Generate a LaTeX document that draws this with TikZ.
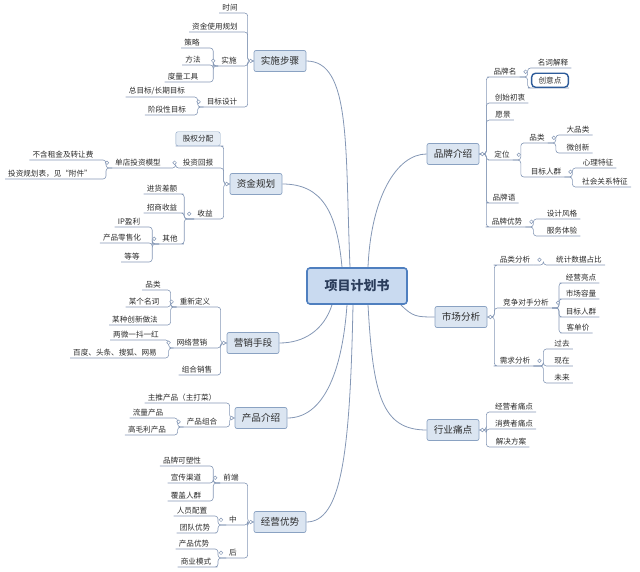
\documentclass[tikz,border=0pt]{standalone}
\usepackage{fontspec}
\setmainfont{Noto Sans CJK SC}
\usetikzlibrary{backgrounds}

\definecolor{linkblue}{HTML}{8497B5}
\definecolor{topicfill}{HTML}{DBE5F1}
\definecolor{topicdraw}{HTML}{8AA2C2}
\definecolor{rootfill}{HTML}{C9DAF0}
\definecolor{rootdraw}{HTML}{4F7FBF}
\definecolor{rootink}{HTML}{2B3D5B}
\definecolor{selblue}{HTML}{2E5C9A}
\definecolor{inktext}{HTML}{2B2B2B}

\tikzset{
  root/.style={draw=rootdraw, line width=1.6pt, fill=rootfill, rounded corners=3pt,
    minimum width=100pt, minimum height=36pt, font=\fontsize{13}{15}\selectfont\bfseries, text=rootink},
  topic/.style={draw=topicdraw, line width=0.7pt, fill=topicfill, rounded corners=2pt,
    minimum width=52pt, minimum height=21pt, font=\fontsize{9.6}{11}\selectfont, text=inktext},
  sub/.style={anchor=south, inner xsep=3pt, inner ysep=1.5pt, font=\fontsize{7.6}{9}\selectfont, text=inktext},
  subbox/.style={sub, draw=topicdraw, fill=topicfill!70, rounded corners=2pt, inner xsep=7pt, inner ysep=3.5pt},
  selbox/.style={sub, draw=selblue, line width=1.4pt, fill=white, rounded corners=4pt, inner xsep=7pt, inner ysep=3.5pt},
  link/.style={draw=linkblue, line width=0.6pt, rounded corners=3pt},
  mainlink/.style={draw=linkblue, line width=0.8pt},
  knob/.style={draw=linkblue, line width=0.5pt, fill=white}
}

% bracket from a parent to its children, to the left or to the right
\newcommand{\lbranch}[3]{\foreach \kid in {#3}{\draw[link] (#1) -- ++(-#2,0) |- (\kid.south east) -- (\kid.south west);}}
\newcommand{\rbranch}[3]{\foreach \kid in {#3}{\draw[link] (#1) -- ++(#2,0) |- (\kid.south west) -- (\kid.south east);}}

\begin{document}
\begin{tikzpicture}[x=1pt, y=-1pt]
  \useasboundingbox (0,0) rectangle (640,572);

  \node[root] (plan) at (357,286) {项目计划书};

  % main topics
  \node[topic] (steps) at (280,61) {实施步骤};
  \node[topic] (funds) at (256,184) {资金规划};
  \node[topic] (promo) at (253,343) {营销手段};
  \node[topic] (product) at (261,418) {产品介绍};
  \node[topic] (advantage) at (280,522) {经营优势};
  \node[topic] (brand) at (453,154) {品牌介绍};
  \node[topic] (mkt) at (461,317) {市场分析};
  \node[topic] (pain) at (453,430) {行业痛点};

  % 实施步骤
  \node[sub] (s1) at (230,13) {时间};
  \node[sub] (s2) at (215,32) {资金使用规划};
  \node[sub] (s3) at (229,66) {实施};
  \node[sub] (s4) at (222,107) {目标设计};
  \node[sub] (s31) at (192,48) {策略};
  \node[sub] (s32) at (193,65) {方法};
  \node[sub] (s33) at (183,82) {度量工具};
  \node[sub] (s41) at (157,97) {总目标/长期目标};
  \node[sub] (s42) at (167,115) {阶段性目标};

  % 资金规划
  \node[subbox] (f1) at (198,146) {股权分配};
  \node[sub] (f2) at (198,168) {投资回报};
  \node[sub] (f3) at (205,219) {收益};
  \node[sub] (f21) at (138,168) {单店投资模型};
  \node[sub] (f211) at (63,160) {不含租金及转让费};
  \node[sub] (f212) at (50,179) {投资规划表，见“附件”};
  \node[sub] (f31) at (162,194) {进货差额};
  \node[sub] (f32) at (162,213) {招商收益};
  \node[sub] (f33) at (170,244) {其他};
  \node[sub] (f331) at (129,227) {IP盈利};
  \node[sub] (f332) at (122,243) {产品零售化};
  \node[sub] (f333) at (132,262) {等等};

  % 营销手段
  \node[sub] (p1) at (195,307) {重新定义};
  \node[sub] (p2) at (192,348) {网络营销};
  \node[sub] (p3) at (197,375) {组合销售};
  \node[sub] (p11) at (153,290) {品类};
  \node[sub] (p12) at (144,307) {某个名词};
  \node[sub] (p13) at (135,325) {某种创新做法};
  \node[sub] (p21) at (136,340) {两微一抖一红};
  \node[sub] (p22) at (115,358) {百度、头条、搜狐、网易};

  % 产品介绍
  \node[sub] (d1) at (182,403) {主推产品（主打菜）};
  \node[sub] (d2) at (202,427) {产品组合};
  \node[sub] (d21) at (148,418) {流量产品};
  \node[sub] (d22) at (147,435) {高毛利产品};

  % 经营优势
  \node[sub] (a1) at (231,483) {前端};
  \node[sub] (a2) at (233,525) {中};
  \node[sub] (a3) at (233,558) {后};
  \node[sub] (a11) at (182,466) {品牌可塑性};
  \node[sub] (a12) at (186,483) {宣传渠道};
  \node[sub] (a13) at (186,501) {覆盖人群};
  \node[sub] (a21) at (192,516) {人员配置};
  \node[sub] (a22) at (195,533) {团队优势};
  \node[sub] (a31) at (194,549) {产品优势};
  \node[sub] (a32) at (196,567) {商业模式};

  % 品牌介绍
  \node[sub] (b1) at (505,77) {品牌名};
  \node[sub] (b2) at (510,103) {创始初衷};
  \node[sub] (b3) at (503,120) {愿景};
  \node[sub] (b4) at (502,160) {定位};
  \node[sub] (b5) at (504,203) {品牌语};
  \node[sub] (b6) at (507,227) {品牌优势};
  \node[sub] (b11) at (553,68) {名词解释};
  \node[selbox] (b12) at (550,88) {创意点};
  \node[sub] (b41) at (537,143) {品类};
  \node[sub] (b42) at (546,177) {目标人群};
  \node[sub] (b411) at (578,135) {大品类};
  \node[sub] (b412) at (578,153) {微创新};
  \node[sub] (b421) at (598,168) {心理特征};
  \node[sub] (b422) at (605,187) {社会关系特征};
  \node[sub] (b61) at (562,219) {设计风格};
  \node[sub] (b62) at (562,236) {服务体验};

  % 市场分析
  \node[sub] (k1) at (515,265) {品类分析};
  \node[sub] (k2) at (526,308) {竞争对手分析};
  \node[sub] (k3) at (515,366) {需求分析};
  \node[sub] (k11) at (579,265) {统计数据占比};
  \node[sub] (k21) at (581,283) {经营亮点};
  \node[sub] (k22) at (581,299) {市场容量};
  \node[sub] (k23) at (581,317) {目标人群};
  \node[sub] (k24) at (578,333) {客单价};
  \node[sub] (k31) at (562,349) {过去};
  \node[sub] (k32) at (562,366) {现在};
  \node[sub] (k33) at (562,383) {未来};

  % 行业痛点
  \node[sub] (t1) at (514,412) {经营者痛点};
  \node[sub] (t2) at (514,429) {消费者痛点};
  \node[sub] (t3) at (511,447) {解决方案};

  \begin{scope}[on background layer]
    % centre to main topics
    \draw[mainlink] ([xshift=-7pt]plan.north) .. controls +(-5,-120) and +(45,0) .. (steps.east);
    \draw[mainlink] ([xshift=-15pt]plan.north) .. controls +(-5,-55) and +(40,0) .. (funds.east);
    \draw[mainlink] ([xshift=11pt]plan.north) .. controls +(3,-70) and +(-30,0) .. (brand.west);
    \draw[mainlink] ([xshift=-7pt]plan.south east) .. controls +(12,12) and +(-18,0) .. (mkt.west);
    \draw[mainlink] ([xshift=11pt]plan.south) .. controls +(5,90) and +(-45,0) .. (pain.west);
    \draw[mainlink] ([xshift=-25pt]plan.south) .. controls +(-8,25) and +(25,0) .. (promo.east);
    \draw[mainlink] ([xshift=-10pt]plan.south) .. controls +(-5,70) and +(35,0) .. (product.east);
    \draw[mainlink] ([xshift=-4pt]plan.south) .. controls +(-3,150) and +(35,0) .. (advantage.east);

    % left side
    \lbranch{steps.west}{6}{s1,s2,s3,s4}
    \lbranch{s3.south west}{5}{s31,s32,s33}
    \lbranch{s4.south west}{6}{s41,s42}
    \lbranch{funds.west}{6}{f1,f2,f3}
    \lbranch{f2.south west}{4}{f21}
    \lbranch{f21.south west}{6}{f211,f212}
    \lbranch{f3.south west}{10}{f31,f32,f33}
    \lbranch{f33.south west}{7}{f331,f332,f333}
    \lbranch{promo.west}{6}{p1,p2,p3}
    \lbranch{p1.south west}{6}{p11,p12,p13}
    \lbranch{p2.south west}{5}{p21,p22}
    \lbranch{product.west}{5}{d1,d2}
    \lbranch{d2.south west}{6}{d21,d22}
    \lbranch{advantage.west}{6}{a1,a2,a3}
    \lbranch{a1.south west}{7}{a11,a12,a13}
    \lbranch{a2.south west}{8}{a21,a22}
    \lbranch{a3.south west}{8}{a31,a32}

    % right side
    \rbranch{brand.east}{7}{b1,b2,b3,b4,b5,b6}
    \rbranch{b1.south east}{8}{b11,b12}
    \rbranch{b4.south east}{8}{b41,b42}
    \rbranch{b41.south east}{8}{b411,b412}
    \rbranch{b42.south east}{8}{b421,b422}
    \rbranch{b6.south east}{8}{b61,b62}
    \rbranch{mkt.east}{7}{k1,k2,k3}
    \rbranch{k1.south east}{10}{k11}
    \rbranch{k2.south east}{7}{k21,k22,k23,k24}
    \rbranch{k3.south east}{10}{k31,k32,k33}
    \rbranch{pain.east}{7}{t1,t2,t3}
  \end{scope}

  % collapse knobs
  \foreach \n in {steps,funds,promo,product,advantage}
    \draw[knob] ([xshift=-3pt]\n.west) circle (1.8pt);
  \foreach \n in {brand,mkt,pain}
    \draw[knob] ([xshift=3pt]\n.east) circle (1.8pt);
  \foreach \n in {s3,s4,f2,f21,f3,f33,p1,p2,d2,a1,a2,a3}
    \draw[knob] ([xshift=-5pt]\n.west) circle (1.8pt);
  \foreach \n in {b1,b4,b41,b42,b6,k1,k2,k3}
    \draw[knob] ([xshift=6pt]\n.east) circle (1.8pt);
\end{tikzpicture}
\end{document}
